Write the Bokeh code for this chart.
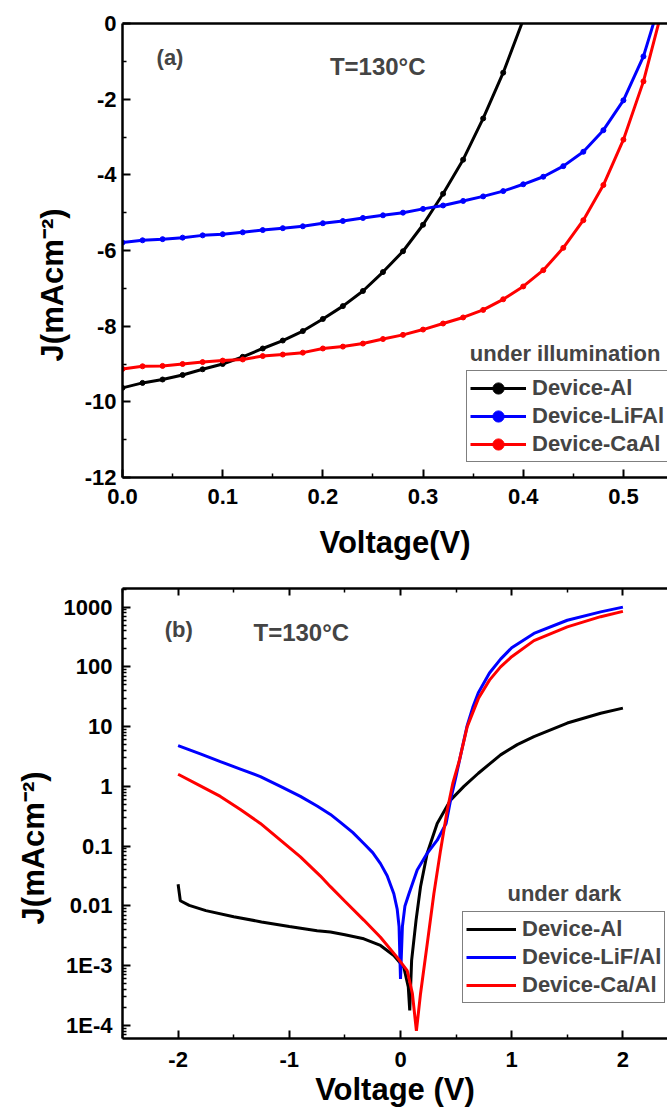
from bokeh.plotting import figure
from bokeh.models import FixedTicker, LinearAxis, Label
from bokeh.layouts import column
from bokeh.embed import file_html
from bokeh.resources import INLINE

# ---------------- data: panel (a) under illumination ----------------
v_al_a = [0.00, 0.02, 0.04, 0.06, 0.08, 0.10, 0.12, 0.14, 0.16, 0.18, 0.20,
          0.22, 0.24, 0.26, 0.28, 0.30, 0.32, 0.34, 0.36, 0.38, 0.40]
j_al_a = [-9.63, -9.50, -9.41, -9.29, -9.14, -9.00, -8.81, -8.59, -8.38, -8.13, -7.81,
          -7.47, -7.07, -6.57, -6.02, -5.32, -4.50, -3.60, -2.51, -1.30, 0.10]
v_lif_a = [0.00, 0.02, 0.04, 0.06, 0.08, 0.10, 0.12, 0.14, 0.16, 0.18, 0.20,
           0.22, 0.24, 0.26, 0.28, 0.30, 0.32, 0.34, 0.36, 0.38, 0.40,
           0.42, 0.44, 0.46, 0.48, 0.50, 0.52, 0.54]
j_lif_a = [-5.79, -5.73, -5.70, -5.66, -5.60, -5.57, -5.52, -5.46, -5.41, -5.36, -5.28,
           -5.22, -5.14, -5.07, -5.00, -4.90, -4.81, -4.69, -4.57, -4.43, -4.25,
           -4.05, -3.77, -3.39, -2.82, -2.03, -0.87, 0.87]
v_ca_a = [0.00, 0.02, 0.04, 0.06, 0.08, 0.10, 0.12, 0.14, 0.16, 0.18, 0.20,
          0.22, 0.24, 0.26, 0.28, 0.30, 0.32, 0.34, 0.36, 0.38, 0.40,
          0.42, 0.44, 0.46, 0.48, 0.50, 0.52, 0.54]
j_ca_a = [-9.13, -9.06, -9.05, -9.00, -8.95, -8.91, -8.88, -8.79, -8.75, -8.70, -8.59,
          -8.54, -8.46, -8.34, -8.23, -8.09, -7.93, -7.77, -7.57, -7.29, -6.95,
          -6.52, -5.93, -5.20, -4.27, -3.07, -1.53, 0.50]

# ---------------- data: panel (b) under dark ----------------
v_al_b = [-2.00, -1.98, -1.90, -1.75, -1.50, -1.25, -1.00, -0.75, -0.63, -0.50, -0.33,
          -0.18, -0.06, 0.03, 0.07, 0.083, 0.10, 0.14, 0.18, 0.24, 0.33, 0.45, 0.57,
          0.70, 0.81, 0.90, 1.05, 1.20, 1.50, 1.80, 2.00]
j_al_b = [0.023, 0.0122, 0.0102, 0.00834, 0.0066, 0.0054, 0.00453, 0.00385, 0.00365, 0.0033, 0.00282,
          0.00218, 0.00148, 0.00094, 0.00044, 0.000178, 0.00123, 0.0058, 0.021, 0.076, 0.24, 0.59, 1.0,
          1.66, 2.45, 3.37, 5.0, 6.8, 11.5, 16.8, 20.4]
v_lif_b = [-2.00, -1.80, -1.62, -1.44, -1.26, -1.08, -0.90, -0.75, -0.63, -0.54, -0.43,
           -0.33, -0.25, -0.18, -0.12, -0.06, -0.03, -0.013, 0.0, 0.017, 0.04, 0.076,
           0.15, 0.24, 0.33, 0.41, 0.45, 0.50, 0.55, 0.60, 0.65, 0.70, 0.80, 0.90,
           1.00, 1.20, 1.50, 1.80, 2.00]
j_lif_b = [4.8, 3.5, 2.6, 1.95, 1.46, 1.0, 0.68, 0.47, 0.34, 0.25, 0.17,
           0.111, 0.078, 0.051, 0.032, 0.016, 0.0089, 0.0045, 0.0006, 0.0045, 0.010, 0.016,
           0.040, 0.076, 0.126, 0.24, 0.59, 1.5, 4.0, 10.5, 21.0, 37.0, 79.0, 135.0,
           209.0, 363.0, 603.0, 832.0, 1000.0]
v_ca_b = [-2.00, -1.80, -1.62, -1.44, -1.26, -1.08, -0.90, -0.72, -0.63, -0.50, -0.33,
          -0.18, -0.03, 0.06, 0.107, 0.143, 0.18, 0.24, 0.30, 0.36, 0.42, 0.47, 0.53,
          0.60, 0.70, 0.80, 0.90, 1.00, 1.20, 1.50, 1.80, 2.00]
j_ca_b = [1.6, 1.02, 0.68, 0.41, 0.24, 0.126, 0.066, 0.0316, 0.021, 0.012, 0.0058,
          0.0030, 0.00138, 0.00083, 0.00034, 0.000081, 0.00034, 0.0023, 0.016, 0.085, 0.40, 1.12, 2.75,
          10.0, 29.5, 60.0, 100.0, 148.0, 275.0, 468.0, 692.0, 850.0]

# ---------------- tick labels ----------------
xa_ticks = [0.0, 0.1, 0.2, 0.3, 0.4, 0.5]
xa_labels = ["0.0", "0.1", "0.2", "0.3", "0.4", "0.5"]
xa_minor = [0.05, 0.15, 0.25, 0.35, 0.45, 0.55]
ya_ticks = [-12, -10, -8, -6, -4, -2, 0]
ya_labels = ["-12", "-10", "-8", "-6", "-4", "-2", "0"]
ya_minor = [-11, -9, -7, -5, -3, -1]
xb_ticks = [-2, -1, 0, 1, 2]
xb_labels = ["-2", "-1", "0", "1", "2"]
xb_minor = [-2.5, -1.5, -0.5, 0.5, 1.5, 2.5]
yb_ticks = [1e-4, 1e-3, 0.01, 0.1, 1, 10, 100, 1000]
yb_labels = ["1E-4", "1E-3", "0.01", "0.1", "1", "10", "100", "1000"]
yb_minor = [m * 10.0 ** k for k in range(-5, 4) for m in range(2, 10)]

FONT = "Liberation Sans"
BLACK, BLUE, RED = "#000000", "#0000FF", "#FF0000"
YLABEL = "J(mAcm\u207b\u00b2)" + "\u00a0" * 8


def style_axis(ax, ticks, labels, minor, standoff, label_size="31px", als=10):
    ax.ticker = FixedTicker(ticks=ticks, minor_ticks=minor)
    ax.major_label_overrides = dict(zip(ticks, labels))
    ax.axis_line_width = 2.5
    ax.axis_line_color = "black"
    ax.major_tick_in = 8
    ax.major_tick_out = 0
    ax.minor_tick_in = 4
    ax.minor_tick_out = 0
    ax.major_tick_line_width = 2
    ax.minor_tick_line_width = 1.5
    ax.major_label_text_font = FONT
    ax.major_label_text_font_style = "bold"
    ax.major_label_text_font_size = "22px"
    ax.major_label_text_color = "black"
    ax.major_label_standoff = standoff
    ax.axis_label_text_font = FONT
    ax.axis_label_text_font_style = "bold"
    ax.axis_label_text_font_size = label_size
    ax.axis_label_text_color = "black"
    ax.axis_label_standoff = als


def top_spine(p, ticks, minor, with_ticks):
    ax = LinearAxis()
    ax.ticker = FixedTicker(ticks=ticks, minor_ticks=minor)
    ax.axis_line_width = 2.5
    ax.major_tick_out = 0
    ax.minor_tick_out = 0
    ax.major_tick_in = 7 if with_ticks else 0
    ax.minor_tick_in = 4 if with_ticks else 0
    ax.major_tick_line_width = 2
    ax.minor_tick_line_width = 1.5
    ax.major_label_text_color = None
    ax.major_label_text_font_size = "8px"
    ax.major_label_standoff = 0
    p.add_layout(ax, "above")


def style_legend(lg, loc, gw):
    lg.location = loc
    lg.label_text_font = FONT
    lg.label_text_font_style = "bold"
    lg.label_text_font_size = "22px"
    lg.glyph_width = gw
    lg.glyph_height = 28
    lg.label_height = 28
    lg.label_standoff = 6
    lg.spacing = 0
    lg.padding = 3
    lg.margin = 0
    lg.border_line_color = "black"
    lg.border_line_width = 1
    lg.background_fill_alpha = 1.0


# ================= panel (a) =================
p1 = figure(width=667, height=568, x_range=(0, 0.544), y_range=(-12, 0),
            output_backend="svg", toolbar_location=None,
            min_border_left=110, min_border_right=0, min_border_top=23, min_border_bottom=91)
p1.outline_line_color = None
p1.xgrid.visible = False
p1.ygrid.visible = False

for v, j, c, lab in [(v_al_a, j_al_a, BLACK, "Device-Al"),
                     (v_lif_a, j_lif_a, BLUE, "Device-LiFAl"),
                     (v_ca_a, j_ca_a, RED, "Device-CaAl")]:
    p1.line(v, j, line_color=c, line_width=3, legend_label=lab)
    p1.scatter(v, j, marker="circle", size=5, fill_color=c, line_color=c, legend_label=lab)

style_axis(p1.xaxis[0], xa_ticks, xa_labels, xa_minor, 11, als=18)
p1.xaxis[0].axis_label = "Voltage(V)"
style_axis(p1.yaxis[0], ya_ticks, ya_labels, ya_minor, 6, als=12)
p1.yaxis[0].axis_label = YLABEL
top_spine(p1, xa_ticks, xa_minor, False)
style_legend(p1.legend[0], (344, 15), 56)

p1.add_layout(Label(x=0.034, y=-0.90, text="(a)", text_font=FONT, text_font_style="bold",
                    text_font_size="22px", text_baseline="middle", text_align="left"))
p1.add_layout(Label(x=0.207, y=-1.13, text="T=130\u00b0C", text_font=FONT, text_font_style="bold",
                    text_font_size="24px", text_baseline="middle", text_align="left"))
p1.add_layout(Label(x=0.3467, y=-8.73, text="under illumination", text_font=FONT,
                    text_font_style="bold", text_font_size="22px", text_baseline="middle",
                    text_align="left"))

# ================= panel (b) =================
p2 = figure(width=667, height=545, x_range=(-2.5, 2.401), y_range=(6.05e-5, 2050),
            y_axis_type="log", output_backend="svg", toolbar_location=None,
            min_border_left=122, min_border_right=0, min_border_top=20, min_border_bottom=75)
p2.outline_line_color = None
p2.xgrid.visible = False
p2.ygrid.visible = False

for v, j, c, lab in [(v_al_b, j_al_b, BLACK, "Device-Al"),
                     (v_lif_b, j_lif_b, BLUE, "Device-LiF/Al"),
                     (v_ca_b, j_ca_b, RED, "Device-Ca/Al")]:
    p2.line(v, j, line_color=c, line_width=3, legend_label=lab)
    p2.scatter([], [], marker="circle", size=4, fill_color=c, line_color=c, legend_label=lab)

style_axis(p2.xaxis[0], xb_ticks, xb_labels, xb_minor, 13, label_size="31px", als=2)
p2.xaxis[0].axis_label = "Voltage (V)"
style_axis(p2.yaxis[0], yb_ticks, yb_labels, yb_minor, 10, als=10)
p2.yaxis[0].axis_label = YLABEL
top_spine(p2, xb_ticks, xb_minor, True)
style_legend(p2.legend[0], (340, 35), 50)

p2.add_layout(Label(x=-2.12, y=421, text="(b)", text_font=FONT, text_font_style="bold",
                    text_font_size="22px", text_baseline="middle", text_align="left"))
p2.add_layout(Label(x=-1.322, y=375, text="T=130\u00b0C", text_font=FONT, text_font_style="bold",
                    text_font_size="24px", text_baseline="middle", text_align="left"))
p2.add_layout(Label(x=0.962, y=0.01644, text="under dark", text_font=FONT,
                    text_font_style="bold", text_font_size="22px", text_baseline="middle",
                    text_align="left"))

layout = column(p1, p2, spacing=0)
open("out.html", "w").write(file_html(layout, INLINE))
